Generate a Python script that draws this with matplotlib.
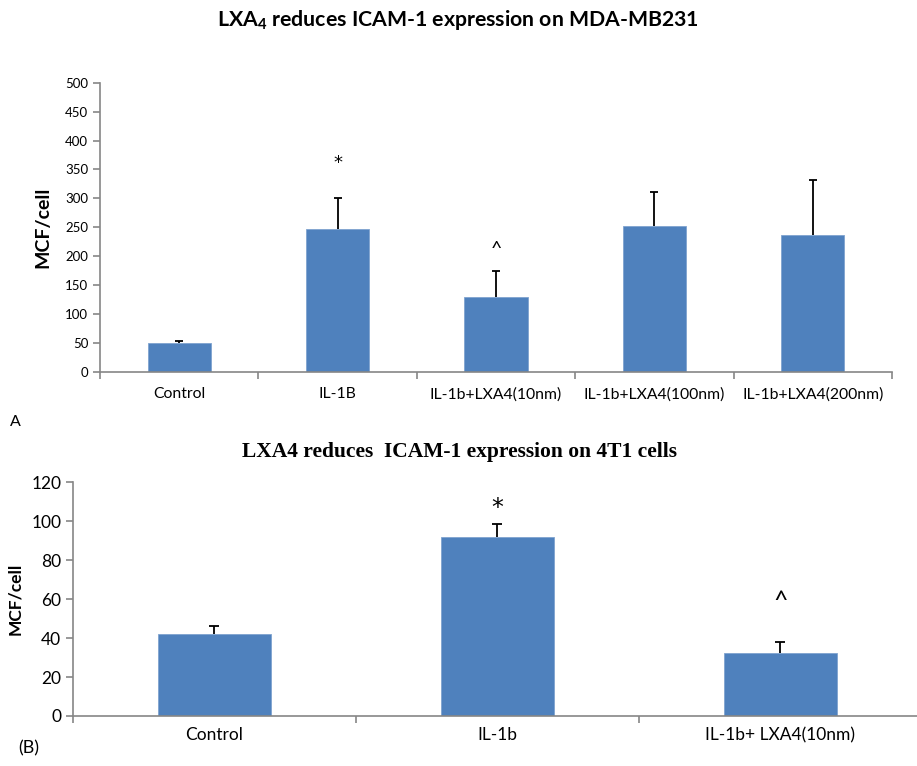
import numpy as np
import matplotlib
matplotlib.use('Agg')
from matplotlib import pyplot as plt

# panel A data
cats_a = ['Control', 'IL-1B', 'IL-1b+LXA4(10nm)', 'IL-1b+LXA4(100nm)', 'IL-1b+LXA4(200nm)']
vals_a = [50, 247, 129, 252, 237]
errs_a = [3, 54, 46, 59, 95]
marks_a = ['', '*', '^', '', '']
mark_y_a = [0, 362, 212, 0, 0]

# panel B data
cats_b = ['Control', 'IL-1b', 'IL-1b+ LXA4(10nm)']
vals_b = [42, 92, 32.5]
errs_b = [4, 6.5, 5.5]
marks_b = ['', '*', '^']
mark_y_b = [0, 107, 59]

bar_color = '#4F81BD'
axis_gray = '#868686'
sans = ['Lato', 'DejaVu Sans']

plt.rcParams['mathtext.fontset'] = 'custom'
plt.rcParams['mathtext.rm'] = 'Lato'
plt.rcParams['mathtext.bf'] = 'Lato:bold'

W, H = 917, 766
fig = plt.figure(figsize=(W / 100, H / 100), dpi=100)


def px_axes(l, r, t, b):
    return fig.add_axes([l / W, 1 - b / H, (r - l) / W, (b - t) / H])


def style_axes(ax, n, ylim, yticks, fs_x, fs_y, pad):
    ax.set_xlim(-0.5, n - 0.5)
    ax.set_ylim(*ylim)
    ax.set_yticks(yticks)
    for s in ['top', 'right']:
        ax.spines[s].set_visible(False)
    for s in ['left', 'bottom']:
        ax.spines[s].set_color(axis_gray)
        ax.spines[s].set_linewidth(1.2)
    ax.tick_params(axis='y', colors=axis_gray, length=5, width=1.2,
                   labelcolor='black', labelsize=fs_y)
    ax.tick_params(axis='x', which='major', length=0, labelsize=fs_x, pad=pad)
    ax.set_xticks(np.arange(n + 1) - 0.5, minor=True)
    ax.tick_params(axis='x', which='minor', length=5, width=1.2, colors=axis_gray)
    for lab in ax.get_xticklabels() + ax.get_yticklabels():
        lab.set_family(sans)


def draw_bars(ax, x, vals, errs, cap):
    top = np.array(vals) + np.array(errs)
    ax.bar(x, vals, width=0.4, color=bar_color, edgecolor='#7fa3cf', linewidth=0.6)
    ax.vlines(x, vals, top, color='black', linewidth=1.3)
    ax.plot(x, top, linestyle='none', marker='_', markersize=cap,
            markeredgewidth=1.3, color='black')


def draw_marks(ax, x, marks, ys, fs):
    for i, m in enumerate(marks):
        if m == '*':
            ax.text(x[i], ys[i], m, ha='center', va='center', fontsize=fs,
                    family='DejaVu Sans')
        elif m:
            ax.text(x[i], ys[i], m, ha='center', va='center', fontsize=fs + 1,
                    family=sans)


# ---- panel A ----
axa = px_axes(100, 892, 82.7, 372)
xa = np.arange(len(cats_a))
draw_bars(axa, xa, vals_a, errs_a, 6)
axa.set_xticks(xa, cats_a)
style_axes(axa, len(cats_a), (0, 500), np.arange(0, 501, 50), 11.3, 9.5, 11)
draw_marks(axa, xa, marks_a, mark_y_a, 13)
axa.set_ylabel('MCF/cell', fontsize=14, fontweight='bold', family=sans, labelpad=10)
fig.text(458 / W, 1 - 20 / H, r'LXA$_\mathbf{4}$ reduces ICAM-1 expression on MDA-MB231',
         ha='center', va='center', fontsize=15.3, fontweight='bold', family=sans)
fig.text(10 / W, 1 - 422 / H, 'A', ha='left', va='center', fontsize=11.5, family=sans)

# ---- panel B ----
axb = px_axes(73, 922, 482.3, 716)
xb = np.arange(len(cats_b))
draw_bars(axb, xb, vals_b, errs_b, 7)
axb.set_xticks(xb, cats_b)
style_axes(axb, len(cats_b), (0, 120), np.arange(0, 121, 20), 12.5, 12.5, 8)
draw_marks(axb, xb, marks_b, mark_y_b, 17)
axb.set_ylabel('MCF/cell', fontsize=12.5, fontweight='bold', family=sans, labelpad=6)
fig.text(460 / W, 1 - 452 / H, 'LXA4 reduces  ICAM-1 expression on 4T1 cells',
         ha='center', va='center', fontsize=15.5, fontweight='bold',
         family='Liberation Serif')
fig.text(18 / W, 1 - 748 / H, '(B)', ha='left', va='center', fontsize=13, family=sans)

fig.savefig('out.png', dpi=100)
